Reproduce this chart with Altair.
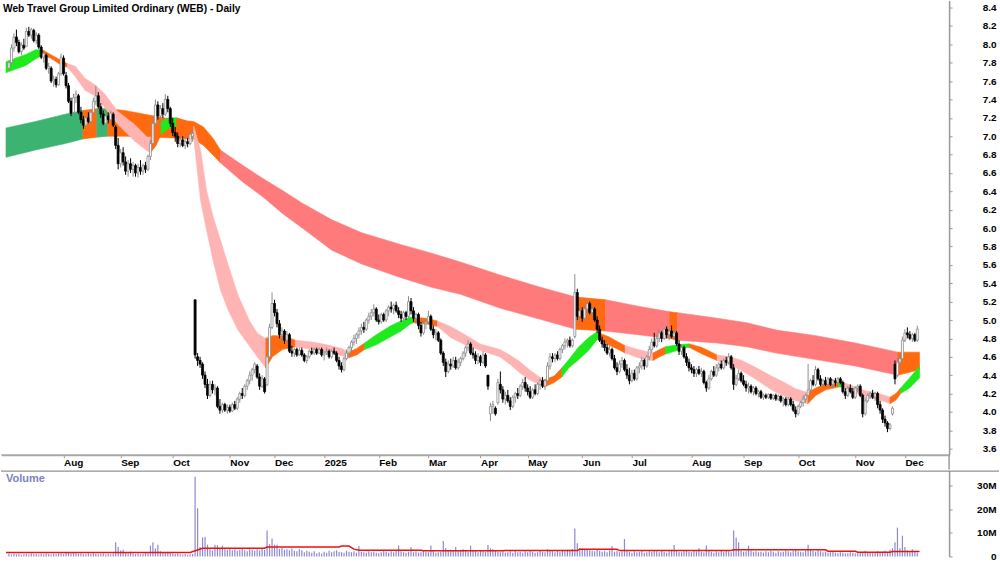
import altair as alt
import pandas as pd

TITLE = "Web Travel Group Limited Ordinary (WEB) - Daily"

# ---- daily candles (open, high, low, close), trading-day order ----
candles_jul24 = [(7.74,7.82,7.72,7.80),(7.80,8.00,7.78,7.96),(7.96,8.12,7.92,8.08),(8.08,8.16,7.98,8.02),(8.02,8.05,7.90,7.92),(7.92,8.02,7.88,7.99),(7.99,8.06,7.94,7.96),(7.98,8.18,7.97,8.14),(8.14,8.19,8.08,8.10),(8.10,8.18,8.06,8.16),(8.15,8.17,8.02,8.04),(8.04,8.13,8.00,8.10),(8.10,8.12,7.95,7.97),(7.97,7.99,7.84,7.86),(7.86,7.92,7.80,7.90),(7.88,7.90,7.72,7.74),(7.74,7.80,7.68,7.76),(7.74,7.76,7.58,7.60),(7.60,7.66,7.54,7.62),(7.62,7.65,7.53,7.56),(7.56,7.70,7.55,7.68),(7.68,7.90,7.66,7.86),(7.85,7.88,7.66,7.68)]
candles_aug24 = [(7.66,7.70,7.52,7.55),(7.55,7.58,7.36,7.38),(7.38,7.42,7.22,7.25),(7.26,7.46,7.24,7.42),(7.42,7.50,7.36,7.46),(7.44,7.46,7.24,7.26),(7.26,7.32,7.14,7.18),(7.18,7.22,7.08,7.12),(7.12,7.22,7.10,7.20),(7.20,7.26,7.14,7.16),(7.16,7.28,7.14,7.26),(7.26,7.42,7.24,7.38),(7.38,7.55,7.34,7.44),(7.44,7.48,7.30,7.32),(7.32,7.36,7.20,7.24),(7.24,7.28,7.12,7.14),(7.14,7.24,7.12,7.22),(7.22,7.26,7.14,7.18),(7.18,7.28,7.16,7.25),(7.24,7.26,7.10,7.12),(7.10,7.12,6.86,6.90),(6.90,6.98,6.64,6.70)]
candles_sep24 = [(6.70,6.86,6.66,6.82),(6.82,6.88,6.68,6.72),(6.72,6.78,6.58,6.62),(6.62,6.74,6.56,6.70),(6.70,6.76,6.60,6.64),(6.64,6.72,6.56,6.68),(6.68,6.70,6.56,6.60),(6.60,6.70,6.55,6.66),(6.66,6.74,6.58,6.62),(6.62,6.70,6.58,6.68),(6.68,6.72,6.60,6.64),(6.64,6.80,6.62,6.78),(6.78,6.96,6.74,6.92),(6.92,7.18,6.90,7.14),(7.14,7.40,7.10,7.34),(7.34,7.38,7.18,7.22),(7.22,7.34,7.16,7.30),(7.30,7.36,7.20,7.24),(7.24,7.46,7.22,7.40),(7.40,7.44,7.26,7.30),(7.30,7.32,7.10,7.14),(7.14,7.20,7.00,7.04),(7.04,7.10,6.94,7.00),(7.00,7.04,6.88,6.92),(6.92,7.00,6.88,6.96),(6.96,7.00,6.88,6.90),(6.90,6.98,6.86,6.94),(6.94,6.98,6.88,6.92),(6.92,7.06,6.90,7.02),(7.00,7.06,6.94,7.03)]
candles_oct24 = [(5.22,5.22,4.58,4.62),(4.60,4.64,4.50,4.56),(4.56,4.60,4.48,4.52),(4.52,4.54,4.36,4.40),(4.40,4.44,4.26,4.30),(4.30,4.36,4.14,4.18),(4.18,4.34,4.16,4.30),(4.30,4.34,4.20,4.24),(4.24,4.30,4.18,4.26),(4.26,4.28,4.04,4.06),(4.06,4.14,3.98,4.02),(4.02,4.10,3.99,4.08),(4.08,4.10,4.00,4.02),(4.02,4.08,3.98,4.05),(4.05,4.08,3.99,4.01),(4.01,4.10,4.00,4.08),(4.08,4.12,4.02,4.04),(4.04,4.16,4.02,4.14),(4.14,4.22,4.10,4.20),(4.20,4.26,4.14,4.18),(4.18,4.30,4.16,4.28),(4.28,4.36,4.24,4.34),(4.34,4.44,4.30,4.40),(4.40,4.48,4.34,4.46),(4.46,4.54,4.42,4.52),(4.50,4.52,4.36,4.38),(4.38,4.42,4.24,4.28),(4.28,4.40,4.26,4.36),(4.36,4.38,4.20,4.22)]
candles_nov24 = [(4.30,4.62,4.28,4.60),(4.60,4.96,4.58,4.92),(4.92,5.30,4.90,5.18),(5.18,5.22,5.04,5.08),(5.08,5.12,4.92,4.96),(4.96,5.00,4.80,4.84),(4.84,4.92,4.76,4.88),(4.88,4.90,4.74,4.78),(4.78,4.88,4.76,4.84),(4.84,4.86,4.64,4.66),(4.66,4.72,4.60,4.64),(4.64,4.70,4.60,4.68),(4.68,4.70,4.60,4.62),(4.62,4.70,4.61,4.67),(4.67,4.70,4.60,4.62),(4.62,4.64,4.54,4.56),(4.56,4.62,4.53,4.60),(4.60,4.68,4.58,4.66),(4.66,4.70,4.62,4.64),(4.64,4.70,4.62,4.68),(4.68,4.70,4.62,4.64),(4.64,4.70,4.63,4.68),(4.68,4.70,4.60,4.62),(4.62,4.66,4.56,4.64),(4.64,4.70,4.62,4.66),(4.66,4.68,4.58,4.60),(4.60,4.68,4.58,4.66),(4.66,4.70,4.62,4.64),(4.64,4.66,4.54,4.56),(4.56,4.60,4.46,4.50),(4.50,4.54,4.43,4.46),(4.46,4.60,4.44,4.58),(4.58,4.68,4.56,4.64),(4.64,4.72,4.60,4.70),(4.70,4.78,4.66,4.76),(4.76,4.84,4.72,4.80),(4.80,4.86,4.74,4.84)]
candles_jan25 = [(4.84,4.92,4.80,4.88),(4.88,4.96,4.84,4.92),(4.92,4.98,4.86,4.90),(4.90,5.02,4.88,5.00),(5.00,5.08,4.96,5.04),(5.04,5.12,5.00,5.08),(5.08,5.17,5.04,5.12),(5.12,5.14,4.98,5.00),(5.00,5.06,4.95,4.98),(4.98,5.08,4.96,5.06),(5.06,5.08,4.98,5.00),(5.00,5.12,4.98,5.10),(5.10,5.16,5.04,5.14),(5.14,5.20,5.08,5.12),(5.12,5.18,5.06,5.16),(5.16,5.20,5.08,5.10),(5.10,5.14,5.02,5.06),(5.06,5.10,4.98,5.02),(5.02,5.10,5.00,5.08),(5.08,5.10,5.00,5.04),(5.04,5.26,5.02,5.20),(5.20,5.24,5.06,5.10),(5.10,5.14,4.98,5.02),(5.02,5.08,4.96,5.06),(5.06,5.08,4.90,4.94),(4.94,4.98,4.82,4.86),(4.86,4.98,4.84,4.96),(4.96,5.02,4.90,4.98),(4.98,5.10,4.96,5.04),(5.04,5.06,4.88,4.90),(4.90,4.94,4.80,4.84),(4.84,4.90,4.78,4.86),(4.86,4.88,4.76,4.78),(4.78,4.80,4.62,4.64),(4.64,4.66,4.50,4.54),(4.54,4.58,4.38,4.44),(4.44,4.56,4.42,4.52),(4.52,4.58,4.46,4.50),(4.50,4.60,4.48,4.56),(4.56,4.60,4.46,4.48),(4.48,4.58,4.46,4.54),(4.54,4.60,4.50,4.58),(4.58,4.66,4.56,4.64),(4.64,4.72,4.60,4.70),(4.70,4.78,4.66,4.74),(4.74,4.76,4.62,4.64),(4.64,4.70,4.58,4.62),(4.62,4.66,4.52,4.56),(4.56,4.64,4.52,4.60),(4.60,4.62,4.50,4.54),(4.54,4.66,4.52,4.62),(4.62,4.64,4.48,4.50),(4.40,4.40,4.24,4.28),(3.98,4.10,3.90,4.06),(4.06,4.12,3.98,4.08),(4.04,4.06,3.96,3.98),(4.10,4.36,4.08,4.32),(4.30,4.44,4.20,4.24),(4.24,4.28,4.10,4.14),(4.14,4.22,4.08,4.18)]
candles_apr25 = [(4.18,4.24,4.10,4.12),(4.12,4.16,4.02,4.06),(4.06,4.18,4.04,4.16),(4.16,4.22,4.10,4.20),(4.20,4.26,4.14,4.18),(4.18,4.30,4.16,4.28),(4.28,4.36,4.24,4.32),(4.32,4.38,4.22,4.26),(4.26,4.30,4.18,4.22),(4.22,4.28,4.14,4.16),(4.16,4.26,4.14,4.24),(4.24,4.30,4.18,4.20),(4.20,4.32,4.18,4.30),(4.30,4.36,4.24,4.34),(4.34,4.38,4.26,4.28),(4.28,4.36,4.24,4.34),(4.34,4.54,4.32,4.50),(4.50,4.64,4.46,4.60),(4.60,4.64,4.54,4.58),(4.58,4.64,4.54,4.62),(4.62,4.66,4.56,4.58),(4.58,4.70,4.56,4.68),(4.68,4.74,4.64,4.72),(4.72,4.80,4.68,4.76),(4.76,4.80,4.70,4.78),(4.78,4.82,4.70,4.72),(4.72,4.80,4.70,4.78)]
candles_jun25 = [(4.82,5.50,4.80,5.30),(5.30,5.34,5.00,5.04),(5.04,5.14,5.00,5.10),(5.10,5.14,4.98,5.02),(5.02,5.16,5.00,5.12),(5.12,5.22,5.08,5.18),(5.18,5.20,5.06,5.08),(5.08,5.16,5.04,5.12),(5.12,5.14,4.98,5.00),(5.00,5.04,4.86,4.90),(4.90,4.94,4.76,4.78),(4.78,4.82,4.70,4.74),(4.74,4.78,4.66,4.70),(4.70,4.74,4.62,4.64),(4.64,4.72,4.60,4.68),(4.68,4.70,4.56,4.58),(4.58,4.62,4.46,4.48),(4.48,4.54,4.40,4.44),(4.44,4.56,4.42,4.52),(4.52,4.60,4.48,4.56),(4.56,4.58,4.44,4.46),(4.46,4.52,4.36,4.40),(4.40,4.48,4.30,4.34),(4.34,4.46,4.32,4.42),(4.42,4.46,4.34,4.36),(4.36,4.50,4.34,4.48),(4.48,4.54,4.42,4.50),(4.50,4.60,4.46,4.56),(4.56,4.58,4.46,4.50),(4.50,4.62,4.48,4.60),(4.60,4.72,4.56,4.68),(4.68,4.80,4.64,4.76),(4.76,4.86,4.70,4.72)]
candles_jul25 = [(4.72,4.84,4.70,4.80),(4.80,4.90,4.76,4.86),(4.86,4.88,4.76,4.80),(4.80,4.92,4.78,4.90),(4.90,4.93,4.80,4.84),(4.84,4.90,4.78,4.88),(4.88,4.94,4.80,4.82),(4.82,4.90,4.78,4.86),(4.86,4.88,4.72,4.74),(4.74,4.78,4.62,4.66),(4.66,4.74,4.62,4.70),(4.70,4.72,4.58,4.60),(4.60,4.64,4.50,4.54),(4.54,4.58,4.44,4.48),(4.48,4.52,4.42,4.46),(4.46,4.50,4.38,4.42),(4.42,4.48,4.38,4.46),(4.46,4.50,4.40,4.42),(4.42,4.48,4.38,4.44),(4.44,4.46,4.30,4.32),(4.32,4.34,4.22,4.26),(4.26,4.40,4.24,4.36),(4.36,4.46,4.34,4.44),(4.44,4.50,4.38,4.40),(4.40,4.52,4.38,4.48),(4.48,4.54,4.44,4.52),(4.52,4.56,4.46,4.48),(4.48,4.58,4.46,4.56),(4.56,4.60,4.50,4.54),(4.54,4.64,4.52,4.60),(4.60,4.62,4.46,4.48),(4.48,4.52,4.24,4.30),(4.30,4.40,4.28,4.36),(4.36,4.46,4.34,4.42),(4.42,4.44,4.32,4.34),(4.34,4.40,4.28,4.30),(4.30,4.34,4.22,4.26),(4.26,4.32,4.20,4.28),(4.28,4.30,4.20,4.22),(4.22,4.28,4.18,4.26)]
candles_sep25 = [(4.26,4.28,4.18,4.20),(4.20,4.24,4.16,4.22),(4.22,4.24,4.14,4.16),(4.16,4.20,4.13,4.18),(4.18,4.20,4.14,4.16),(4.16,4.20,4.14,4.19),(4.19,4.20,4.13,4.15),(4.15,4.19,4.13,4.18),(4.18,4.20,4.12,4.14),(4.14,4.19,4.12,4.17),(4.17,4.18,4.10,4.12),(4.12,4.16,4.06,4.14),(4.14,4.16,4.06,4.08),(4.08,4.16,4.06,4.14),(4.14,4.16,4.06,4.08),(4.08,4.12,4.00,4.02),(4.02,4.06,3.94,3.98),(3.98,4.08,3.96,4.06),(4.06,4.12,4.04,4.10),(4.10,4.18,4.06,4.14),(4.14,4.20,4.10,4.18),(4.18,4.52,4.16,4.24),(4.24,4.36,4.22,4.34),(4.34,4.40,4.28,4.30),(4.30,4.50,4.28,4.46),(4.46,4.48,4.34,4.36),(4.36,4.40,4.28,4.30),(4.30,4.36,4.26,4.34),(4.34,4.38,4.28,4.30),(4.30,4.38,4.28,4.36),(4.36,4.38,4.28,4.30),(4.30,4.36,4.26,4.34),(4.34,4.37,4.28,4.32),(4.32,4.38,4.30,4.36),(4.36,4.38,4.30,4.32),(4.32,4.34,4.20,4.22),(4.22,4.26,4.14,4.18),(4.18,4.28,4.16,4.26),(4.26,4.30,4.20,4.22),(4.22,4.26,4.14,4.16),(4.16,4.28,4.14,4.26),(4.26,4.30,4.22,4.28),(4.28,4.30,4.16,4.18),(4.18,4.20,3.94,3.98),(3.98,4.16,3.96,4.12),(4.12,4.20,4.10,4.18),(4.18,4.22,4.14,4.20),(4.20,4.24,4.14,4.16),(4.16,4.22,4.12,4.20),(4.20,4.22,4.04,4.08),(4.08,4.12,3.98,4.02),(4.02,4.04,3.88,3.92),(3.92,3.96,3.84,3.88),(3.88,3.90,3.78,3.82),(3.82,3.88,3.80,3.86)]
candles_dec25 = [(3.98,4.06,3.96,4.04),(4.52,4.56,4.30,4.36),(4.40,4.58,4.38,4.54),(4.54,4.62,4.50,4.58),(4.58,4.82,4.56,4.78),(4.78,4.90,4.76,4.86),(4.86,4.92,4.80,4.84),(4.84,4.88,4.78,4.80),(4.80,4.86,4.76,4.84),(4.84,4.86,4.76,4.78),(4.78,4.94,4.76,4.90)]

# ---- daily volume, millions of shares ----
vol_jul24 = [1.2,0.8,1.0,0.9,1.1,0.7,0.9,1.0,0.8,1.2,0.9,1.0,0.8,1.1,0.9,1.3,1.0,0.8,1.1,0.9,1.2,1.4,1.0]
vol_aug24 = [1.5,1.8,1.2,1.6,1.4,1.1,1.3,1.0,0.9,1.2,1.0,1.4,1.1,0.9,1.0,1.2,0.8,1.1,0.9,1.3,6.0,4.0]
vol_sep24 = [2.5,2.8,1.6,1.4,2.0,1.2,1.0,1.3,0.9,1.1,1.5,1.4,4.6,6.0,3.4,5.0,2.2,1.8,1.5,2.0,1.6,1.3,1.0,1.2,0.9,0.8,1.0,0.7,0.9,1.0]
vol_oct24 = [33.7,20.4,4.0,8.0,8.2,5.0,3.0,2.6,5.0,4.8,3.2,4.5,3.0,2.8,3.4,2.6,3.0,2.4,2.8,3.2,2.6,2.2,3.0,2.8,2.4,3.0,2.6,3.2,2.8]
vol_nov24 = [11.0,5.2,7.6,5.0,5.0,3.2,3.6,2.8,3.0,2.6,3.4,2.4,2.2,3.0,2.6,1.8,2.4,2.0,1.6,2.2,1.4,1.8,1.2,2.0,1.6,2.4,1.8,2.2,2.6,2.0,1.8,1.6,2.4,2.0,1.8,2.2,1.6]
vol_jan25 = [4.4,2.0,1.8,1.6,2.2,1.8,2.0,1.6,1.4,1.8,2.4,2.0,1.6,2.2,1.8,2.6,4.6,2.2,1.8,1.6,2.0,4.0,1.8,2.2,1.6,1.8,2.4,2.0,1.8,4.6,2.2,1.6,1.8,2.0,6.5,3.6,2.2,2.8,2.4,4.0,2.2,2.6,3.0,2.4,2.0,4.6,2.8,2.4,1.8,2.6,2.2,2.0,4.8,3.4,3.0,2.4,2.0,1.8,2.2,1.6]
vol_apr25 = [1.8,2.2,1.6,2.4,1.8,2.0,1.6,2.2,1.8,2.6,2.0,1.6,1.8,2.4,2.0,1.8,3.0,2.6,2.2,1.8,2.4,2.0,2.6,2.2,2.8,2.4,3.2]
vol_jun25 = [11.8,5.6,3.6,3.4,3.2,3.0,2.6,2.4,2.2,2.8,2.4,2.0,2.2,1.8,2.6,4.4,2.0,2.4,1.8,2.2,7.4,2.6,2.0,1.6,2.2,1.8,2.0,2.4,1.6,1.8,2.2,2.0,2.6]
vol_jul25 = [2.2,1.8,2.4,2.0,1.6,2.2,2.8,4.9,2.4,2.0,1.8,2.2,2.6,2.0,1.8,2.4,2.2,3.5,2.0,1.8,4.6,2.4,2.0,1.6,2.2,1.8,2.4,2.0,2.6,2.2,1.8,11.0,8.0,6.0,2.4,2.0,2.2,4.6,2.4,2.0]
vol_sep25 = [2.2,1.8,2.0,1.6,2.2,1.8,2.4,2.0,1.6,2.2,1.8,2.0,2.6,2.2,1.8,2.4,2.8,2.2,2.0,1.8,2.4,5.0,3.0,2.4,2.0,2.6,2.2,1.8,2.0,1.6,1.8,2.2,1.6,1.4,1.8,1.6,1.2,1.4,1.8,1.6,1.2,1.4,1.6,2.0,2.4,1.8,1.6,1.4,1.8,2.2,1.6,2.0,2.4,1.8,2.8]
vol_dec25 = [3.5,6.0,12.2,3.5,8.8,4.0,2.6,2.0,3.0,2.2,1.6]

# ---- volume moving average (red line), millions ----
vol_ma_idx = [-1.2,73,78,103,104,133,134,137,139,141,166,167,199,200,229,230,245,246,291,292,329,330,341,342,355,356,366.9]
vol_ma_m = [1.7,1.7,3.5,3.5,4.0,4.0,4.4,4.4,3.1,2.6,2.6,2.4,2.4,2.5,2.5,3.1,3.1,2.5,2.5,2.8,2.8,2.2,2.2,1.8,1.8,2.1,2.1]

# ---- long-term MA ribbon (trading-day index, upper, lower) ----
long_idx = [-1.2,10.7,22.7,29.8,35.4,39.8,46.6,58.5,66.5,74.4,78.4,82.4,85.2,94.3,102.3,110.2,118.2,130.1,142.1,158.0,169.9,181.9,197.8,213.7,228.4,240.4,253.5,266.2,269.4,285.3,297.2,309.2,325.1,341.0,358.2,366.9]
long_top = [7.09,7.16,7.24,7.28,7.30,7.30,7.28,7.22,7.18,7.16,7.10,6.97,6.85,6.68,6.54,6.41,6.27,6.09,5.95,5.82,5.73,5.63,5.49,5.36,5.25,5.22,5.15,5.09,5.08,5.02,4.97,4.89,4.83,4.75,4.65,4.65]
long_bot = [6.77,6.85,6.92,6.97,6.99,7.00,7.00,6.99,6.98,6.97,6.90,6.79,6.71,6.50,6.34,6.16,6.00,5.76,5.61,5.46,5.36,5.28,5.13,5.01,4.90,4.88,4.84,4.80,4.78,4.75,4.71,4.64,4.57,4.50,4.40,4.46]
long_phases = [(-1.2,29.8,"up"),(29.8,35.4,"mixed"),(35.4,39.8,"up"),(39.8,85.2,"mixed"),(85.2,228.4,"down"),(228.4,240.4,"mixed"),(240.4,266.2,"down"),(266.2,269.4,"mixed"),(269.4,358.2,"down"),(358.2,366.9,"mixed")]

# ---- short-term MA ribbon ----
short_idx = [-1.2,2.8,6.8,10.7,13.5,16.7,20.7,23.5,26.7,30.6,34.6,38.6,43.8,50.5,55.7,57.3,59.3,61.3,64.5,67.6,71.2,74.4,77.2,79.6,82.4,85.2,88.3,92.3,97.1,100.3,103.5,106.2,110.2,115.4,122.2,128.1,134.1,136.9,140.1,143.3,148.0,154.0,158.0,161.9,163.1,167.9,172.7,177.9,183.8,189.8,197.8,201.8,205.7,209.7,213.7,215.7,219.7,222.8,225.6,229.6,233.6,236.8,237.6,241.5,245.5,248.3,253.5,259.5,262.2,264.6,269.4,273.3,274.2,279.3,285.3,290.5,295.3,301.2,307.2,313.2,317.1,321.9,325.1,329.1,334.3,336.3,341.0,345.0,349.0,353.0,355.0,357.4,359.3,362.9,366.9]
short_top = [7.81,7.85,7.89,7.94,7.94,7.89,7.83,7.79,7.76,7.63,7.56,7.46,7.27,7.13,6.99,6.99,7.11,7.16,7.20,7.20,7.17,7.11,6.85,6.41,6.11,5.87,5.60,5.27,4.98,4.85,4.80,4.83,4.83,4.78,4.76,4.73,4.69,4.65,4.69,4.75,4.84,4.94,4.99,5.03,5.03,5.02,4.99,4.93,4.84,4.74,4.68,4.62,4.55,4.46,4.38,4.35,4.39,4.48,4.57,4.71,4.81,4.87,4.86,4.82,4.76,4.72,4.68,4.64,4.68,4.71,4.73,4.74,4.74,4.70,4.62,4.60,4.56,4.48,4.39,4.31,4.25,4.21,4.26,4.31,4.33,4.32,4.27,4.23,4.21,4.18,4.16,4.20,4.26,4.37,4.50]
short_bot = [7.69,7.73,7.77,7.84,7.88,7.85,7.78,7.75,7.65,7.50,7.44,7.31,7.13,6.95,6.84,6.83,6.90,7.02,7.09,7.11,7.07,7.00,6.30,5.98,5.63,5.33,5.11,4.89,4.71,4.59,4.48,4.60,4.68,4.71,4.68,4.65,4.61,4.59,4.62,4.68,4.73,4.82,4.88,4.96,4.97,4.96,4.93,4.81,4.73,4.67,4.60,4.52,4.43,4.35,4.30,4.27,4.32,4.38,4.48,4.57,4.67,4.78,4.80,4.73,4.68,4.64,4.59,4.56,4.60,4.63,4.67,4.70,4.70,4.63,4.56,4.51,4.45,4.35,4.24,4.16,4.12,4.09,4.18,4.24,4.27,4.27,4.21,4.17,4.14,4.11,4.09,4.13,4.20,4.26,4.37]
short_phases = [(-1.2,13.5,"up"),(13.5,23.5,"mixed"),(23.5,57.3,"down"),(57.3,61.3,"mixed"),(61.3,67.6,"up"),(67.6,74.4,"mixed"),(74.4,103.5,"down"),(103.5,115.4,"mixed"),(115.4,136.9,"down"),(136.9,143.3,"mixed"),(143.3,163.1,"up"),(163.1,172.7,"mixed"),(172.7,215.7,"down"),(215.7,222.8,"mixed"),(222.8,237.6,"up"),(237.6,248.3,"mixed"),(248.3,259.5,"down"),(259.5,264.6,"mixed"),(264.6,274.2,"up"),(274.2,285.3,"mixed"),(285.3,321.9,"down"),(321.9,334.3,"mixed"),(334.3,336.3,"up"),(336.3,355.0,"down"),(355.0,359.3,"mixed"),(359.3,366.9,"up")]

# ---- axis ticks ----
month_tick_idx = [22,45,66,89,107,127,149,169,190,209,231,251,275,296,318,341,361]
month_tick_lbl = ["Aug","Sep","Oct","Nov","Dec","2025","Feb","Mar","Apr","May","Jun","Jul","Aug","Sep","Oct","Nov","Dec"]
price_ticks = [3.6,3.8,4.0,4.2,4.4,4.6,4.8,5.0,5.2,5.4,5.6,5.8,6.0,6.2,6.4,6.6,6.8,7.0,7.2,7.4,7.6,7.8,8.0,8.2,8.4]
volume_ticks = [0, 10e6, 20e6, 30e6]

LONG_COL = {"up": "#3cb371", "mixed": "#ff6a10", "down": "#ff7a7a"}
SHORT_COL = {"up": "#1eea1e", "mixed": "#ff6a10", "down": "#ffb4b4"}

# ---------------- build tables ----------------
candles = [c for g in [candles_jul24, candles_aug24, candles_sep24, candles_oct24, candles_nov24,
                       candles_jan25, candles_apr25, candles_jun25, candles_jul25, candles_sep25,
                       candles_dec25] for c in g]
vols = [v for g in [vol_jul24, vol_aug24, vol_sep24, vol_oct24, vol_nov24, vol_jan25, vol_apr25,
                    vol_jun25, vol_jul25, vol_sep25, vol_dec25] for v in g]
assert len(candles) == len(vols), (len(candles), len(vols))

df = pd.DataFrame(candles, columns=["open", "high", "low", "close"])
df["i"] = range(len(df))
df["vol"] = [v * 1e6 for v in vols]
up = df["close"] >= df["open"]
df["wick"] = ["#8c8c8c" if u else "#000000" for u in up]
df["fill"] = ["#ffffff" if u else "#000000" for u in up]
df["edge"] = ["#8c8c8c" if u else "#000000" for u in up]


def band_table(idx, top, bot, phases, colors, name):
    rows = []
    for k, (a, b, ph) in enumerate(phases):
        for i, t, bb in zip(idx, top, bot):
            if a - 1e-9 <= i <= b + 1e-9:
                rows.append({"i": i, "top": t, "bot": bb, "col": colors[ph], "seg": f"{name}{k}"})
    return pd.DataFrame(rows)


long_df = band_table(long_idx, long_top, long_bot, long_phases, LONG_COL, "L")
short_df = band_table(short_idx, short_top, short_bot, short_phases, SHORT_COL, "S")
ma_df = pd.DataFrame({"i": vol_ma_idx, "v": [m * 1e6 for m in vol_ma_m]})
one = pd.DataFrame({"t": [TITLE]})

# ---------------- scales / axes ----------------
W = 950
X_DOM = [-1.2, 376.8]
x_scale = alt.Scale(domain=X_DOM, nice=False, zero=False)
label_expr = " : ".join(f"datum.value == {v} ? '{l}'" for v, l in zip(month_tick_idx, month_tick_lbl)) + " : ''"
x_axis = alt.Axis(values=month_tick_idx, labelExpr=label_expr, title=None, grid=False,
                  orient="bottom", labelAlign="left", labelOffset=0, labelFont="Arial",
                  labelFontWeight="bold", labelFontSize=10, labelColor="#000000",
                  tickColor="#999999", tickSize=3, domainColor="#a8a8a8", domainWidth=2,
                  labelPadding=0, labelFlush=False, labelOverlap=False)
x_enc = alt.X("i:Q", scale=x_scale, axis=x_axis)

PH = 455
y_scale = alt.Scale(domain=[3.535, 8.476], nice=False, zero=False)
y_axis = alt.Axis(values=price_ticks, format=".1f", orient="right", title=None, grid=False,
                  labelAlign="right", labelPadding=44, tickSize=3, labelFont="Arial",
                  labelFontWeight="bold", labelFontSize=10, labelColor="#000000",
                  tickColor="#999999", domainColor="#999999", domainWidth=1.5,
                  labelBaseline="middle", labelFlush=False, labelOverlap=False)

long_layer = alt.Chart(long_df).mark_area(strokeWidth=0.6, interpolate="linear").encode(
    x=x_enc, y=alt.Y("top:Q", scale=y_scale, axis=y_axis), y2="bot:Q",
    color=alt.Color("col:N", scale=None), stroke=alt.Stroke("col:N", scale=None), detail="seg:N")
short_layer = alt.Chart(short_df).mark_area(strokeWidth=0.6, interpolate="linear").encode(
    x=x_enc, y=alt.Y("top:Q", scale=y_scale, axis=y_axis), y2="bot:Q",
    color=alt.Color("col:N", scale=None), stroke=alt.Stroke("col:N", scale=None), detail="seg:N")
wicks = alt.Chart(df).mark_rule(strokeWidth=1).encode(
    x=x_enc, y=alt.Y("low:Q", scale=y_scale, axis=y_axis), y2="high:Q",
    color=alt.Color("wick:N", scale=None))
bodies = alt.Chart(df).mark_bar(size=2.0, strokeWidth=0.8).encode(
    x=x_enc, y=alt.Y("open:Q", scale=y_scale, axis=y_axis), y2="close:Q",
    fill=alt.Fill("fill:N", scale=None), stroke=alt.Stroke("edge:N", scale=None))
title_layer = alt.Chart(one).mark_text(align="left", baseline="middle", font="Arial",
                                      fontWeight="bold", fontSize=10.2, color="#000000").encode(
    x=alt.value(2), y=alt.value(8), text="t:N")
connector = alt.Chart(one).mark_rule(color="#999999", strokeWidth=1.5).encode(
    x=alt.value(W), y=alt.value(PH), y2=alt.value(PH + 15))

price = alt.layer(long_layer, short_layer, wicks, bodies, title_layer, connector).properties(
    width=W, height=PH)

# ---------------- volume panel ----------------
VH = 86
v_scale = alt.Scale(domain=[0, 36.34e6], nice=False, zero=True)
v_axis = alt.Axis(values=volume_ticks, orient="right", title=None, grid=False,
                  labelExpr="datum.value == 0 ? '0' : format(datum.value / 1e6, 'd') + 'M'",
                  labelAlign="right", labelPadding=44, tickSize=3, labelFont="Arial",
                  labelFontWeight="bold", labelFontSize=10, labelColor="#000000",
                  tickColor="#999999", domainColor="#999999", domainWidth=1.5,
                  labelBaseline="middle", labelFlush=False, labelOverlap=False)
vx = alt.X("i:Q", scale=x_scale, axis=None)
vbars = alt.Chart(df).mark_bar(size=1.2, color="#8a8ad2").encode(
    x=vx, y=alt.Y("vol:Q", scale=v_scale, axis=v_axis))
vline = alt.Chart(ma_df).mark_line(color="#ee1111", strokeWidth=1.5).encode(
    x=vx, y=alt.Y("v:Q", scale=v_scale, axis=v_axis))
vlabel = alt.Chart(one).mark_text(align="left", baseline="middle", font="Arial",
                                 fontWeight="bold", fontSize=11, color="#8080c0").encode(
    x=alt.value(5), y=alt.value(8), text=alt.value("Volume"))
vtop = alt.Chart(one).mark_rule(color="#777777", strokeWidth=1).encode(
    x=alt.value(0), x2=alt.value(1000), y=alt.value(0.5))

volume = alt.layer(vbars, vline, vlabel, vtop).properties(width=W, height=VH)

chart = alt.vconcat(price, volume, spacing=0).properties(
    padding={"left": 0, "top": 0, "right": 0, "bottom": 0}
).configure_view(stroke=None)

chart.save("out.html", embed_options={"renderer": "svg", "actions": False})
